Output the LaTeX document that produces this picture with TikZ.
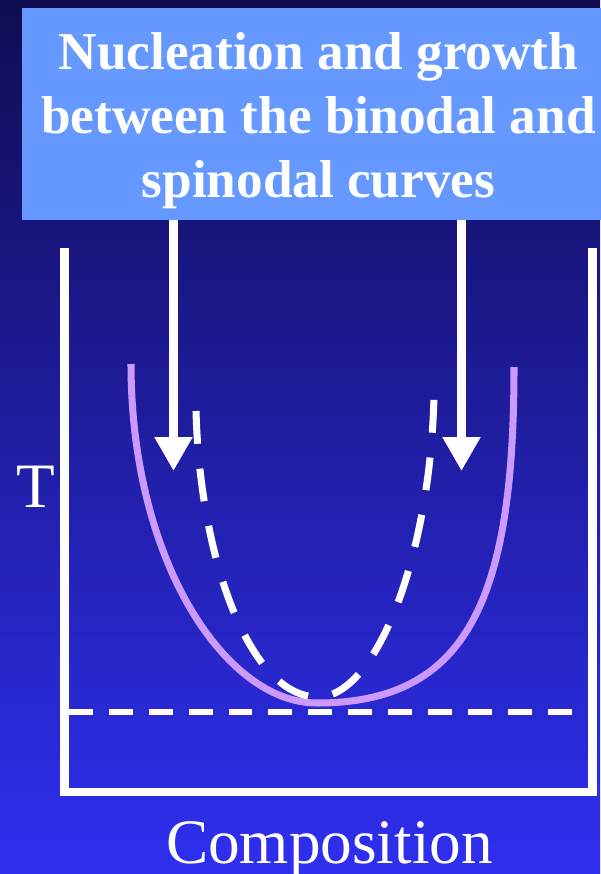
\documentclass[tikz,border=0pt]{standalone}
\usepackage{fontspec}
\setmainfont{Liberation Serif}
\usetikzlibrary{arrows.meta, positioning}
\definecolor{bgtop}{RGB}{16,12,82}
\definecolor{bgmid}{RGB}{34,34,170}
\definecolor{bgbot}{RGB}{47,47,240}
\definecolor{boxblue}{RGB}{102,153,255}
\definecolor{binodal}{RGB}{204,153,255}

\begin{document}
\begin{tikzpicture}[
    x=0.02cm, y=-0.02cm,
    titlebox/.style={fill=boxblue, minimum width=11.86cm, minimum height=4.24cm},
    titletext/.style={align=center, text=white, font=\fontsize{30.3}{36.3}\selectfont\bfseries},
    label/.style={text=white, font=\fontsize{36}{40}\selectfont, inner sep=0pt},
    arr/.style={-{Triangle[width=20.4pt, length=19.3pt]}, white, line width=5.1pt},
    axis/.style={white, line width=5.1pt},
    spinodal/.style={white, line width=4pt, dash pattern=on 18.7pt off 14.2pt},
    limit/.style={white, line width=3.4pt, dash pattern=on 13.6pt off 9.1pt}
]
\useasboundingbox (0,0) rectangle (600,874);
\shade[top color=bgtop, middle color=bgmid, bottom color=bgbot] (0,0) rectangle (600,874);

% title and arrows
\node[titlebox] (title) at (318.5,114) {};
\node[titletext] (titletext) at ([yshift=-3.8pt]title.center) {Nucleation and growth\\between the binodal and\\spinodal curves};
\coordinate (tipL) at (173.5,471);
\coordinate (tipR) at (461.5,471);
\draw[arr] (title.south -| tipL) -- (tipL);
\draw[arr] (title.south -| tipR) -- (tipR);

% axes
\draw[axis] (64.5,248) -- (64.5,792) -- (592.5,792) -- (592.5,248);
\node[label, anchor=base] (temp) at (35.5,507) {T};
\node[label, anchor=base] (comp) at (329.5,863) {Composition};

% curves
\draw[limit] (69,712) -- (572,712);
\draw[binodal, line width=4pt] (131,364) .. controls (131,560) and (225,703) .. (317,703)
    .. controls (467,703) and (514,600) .. (514,367);
\draw[spinodal] (196,411) .. controls (200,560) and (250,697) .. (318,697)
    .. controls (375,697) and (430,560) .. (434,396);
\end{tikzpicture}
\end{document}
